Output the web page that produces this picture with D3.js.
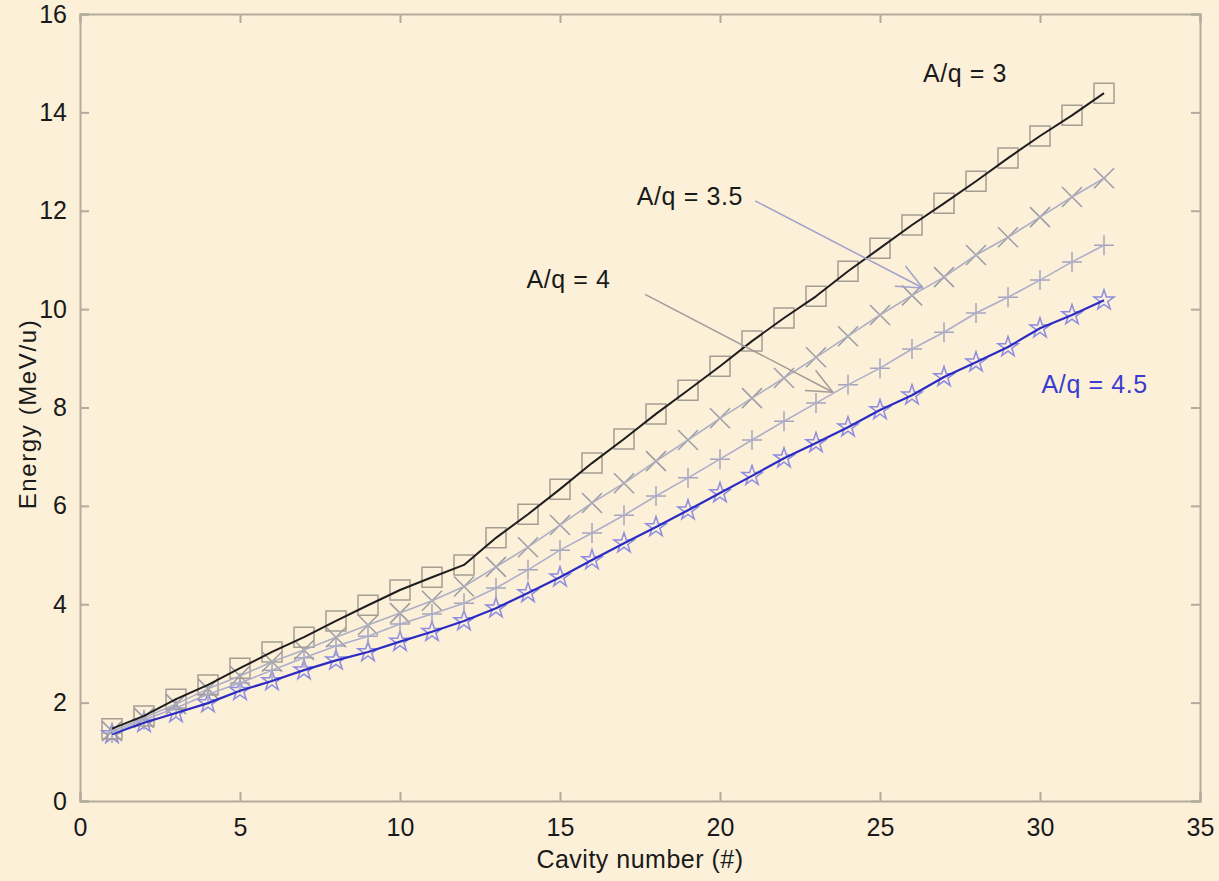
<!DOCTYPE html>
<html>
<head>
<meta charset="utf-8">
<script src="https://cdn.jsdelivr.net/npm/d3@7/dist/d3.min.js"></script>
<style>
  html, body { margin: 0; padding: 0; background: #fcf0d8; }
  svg { display: block; }
  text { font-family: "Liberation Sans", Arial, Helvetica, sans-serif; fill: #1a1a1a; }
</style>
</head>
<body>
<svg id="chart" width="1219" height="881"></svg>
<script>
const cavities = d3.range(1, 33);
const seriesNames = ["A/q = 3", "A/q = 3.5", "A/q = 4", "A/q = 4.5"];
const energyAq3 = [1.47, 1.73, 2.07, 2.36, 2.70, 3.03, 3.33, 3.66, 3.98, 4.29, 4.55, 4.80,
  5.35, 5.83, 6.34, 6.87, 7.36, 7.87, 8.35, 8.84, 9.35, 9.82, 10.26, 10.77, 11.24, 11.71,
  12.15, 12.60, 13.07, 13.52, 13.94, 14.39];
const energyAq35 = [1.42, 1.69, 1.97, 2.28, 2.54, 2.83, 3.07, 3.33, 3.58, 3.82, 4.07, 4.36,
  4.76, 5.16, 5.61, 6.06, 6.46, 6.91, 7.34, 7.78, 8.19, 8.60, 9.02, 9.45, 9.88, 10.28,
  10.65, 11.10, 11.46, 11.87, 12.28, 12.66];
const energyAq4 = [1.38, 1.65, 1.89, 2.17, 2.40, 2.66, 2.91, 3.15, 3.35, 3.60, 3.80, 4.02,
  4.33, 4.70, 5.10, 5.45, 5.81, 6.20, 6.57, 6.95, 7.34, 7.72, 8.09, 8.46, 8.80, 9.19,
  9.53, 9.92, 10.24, 10.59, 10.96, 11.30];
const energyAq45 = [1.36, 1.59, 1.79, 1.99, 2.24, 2.44, 2.66, 2.86, 3.03, 3.24, 3.44, 3.66,
  3.92, 4.23, 4.55, 4.90, 5.24, 5.57, 5.91, 6.26, 6.61, 6.97, 7.28, 7.60, 7.95, 8.25,
  8.62, 8.92, 9.23, 9.61, 9.88, 10.18];
const xTicks = [0, 5, 10, 15, 20, 25, 30, 35];
const yTicks = [0, 2, 4, 6, 8, 10, 12, 14, 16];
// annotation anchors in data units: [label x, label y, arrow start x, y, arrow end x, y]
const annotAq3 = [26.34, 14.62];
const annotAq35 = [17.4, 12.12, 21.1, 12.2, 26.34, 10.43];
const annotAq4 = [13.95, 10.42, 17.66, 10.3, 23.53, 8.31];
const annotAq45 = [30.05, 8.3];

const svg = d3.select("#chart");
const x = d3.scaleLinear().domain([0, 35]).range([80, 1200]);
const y = d3.scaleLinear().domain([0, 16]).range([801, 14]);

svg.append("rect").attr("width", 1219).attr("height", 881).attr("fill", "#fcf0d8");

const frameColor = "#b3ab9e";
const tickLen = 9;
const gx = svg.append("g").attr("transform", `translate(0,${y(0)})`)
  .call(d3.axisBottom(x).tickValues(xTicks).tickSize(-tickLen).tickPadding(17).tickFormat(d3.format("d")));
const gxt = svg.append("g").attr("transform", `translate(0,${y(16)})`)
  .call(d3.axisTop(x).tickValues(xTicks).tickSize(-tickLen).tickFormat(""));
const gy = svg.append("g").attr("transform", `translate(${x(0)},0)`)
  .call(d3.axisLeft(y).tickValues(yTicks).tickSize(-tickLen).tickPadding(14).tickFormat(d3.format("d")));
const gyr = svg.append("g").attr("transform", `translate(${x(35)},0)`)
  .call(d3.axisRight(y).tickValues(yTicks).tickSize(-tickLen).tickFormat(""));
[gx, gxt, gy, gyr].forEach(g => {
  g.select(".domain").attr("stroke", frameColor).attr("stroke-width", 2);
  g.selectAll(".tick line").attr("stroke", frameColor).attr("stroke-width", 2);
  g.selectAll(".tick text").attr("font-size", 25).attr("fill", "#1a1a1a")
    .attr("font-family", "Liberation Sans, Arial, sans-serif");
});
gx.selectAll(".tick text").attr("dy", "0.71em");
gy.selectAll(".tick text").attr("dx", "1");

svg.append("text").attr("x", 640).attr("y", 868).attr("text-anchor", "middle")
  .attr("font-size", 25).attr("letter-spacing", 0.5).text("Cavity number (#)");
svg.append("text").attr("transform", `translate(36,${414}) rotate(-90)`).attr("text-anchor", "middle")
  .attr("font-size", 24).attr("letter-spacing", 1.6).text("Energy (MeV/u)");

const series = [
  { name: seriesNames[0], values: energyAq3, line: "#1e1e1e", lw: 2, marker: "square", mc: "#a39d94" },
  { name: seriesNames[1], values: energyAq35, line: "#aeaec4", lw: 1.6, marker: "x", mc: "#9c9ca4" },
  { name: seriesNames[2], values: energyAq4, line: "#aeaecb", lw: 1.6, marker: "plus", mc: "#a4a4c0" },
  { name: seriesNames[3], values: energyAq45, line: "#2b2bc4", lw: 2.2, marker: "star", mc: "#8c8ce0" }
];

const lineGen = d3.line().x((d, i) => x(cavities[i])).y(d => y(d));

function markerPath(type) {
  const p = d3.path();
  if (type === "square") { p.rect(-10, -10, 20, 20); return p.toString(); }
  if (type === "x") { p.moveTo(-10, -10); p.lineTo(10, 10); p.moveTo(-10, 10); p.lineTo(10, -10); return p.toString(); }
  if (type === "plus") { p.moveTo(-10, 0); p.lineTo(10, 0); p.moveTo(0, -10); p.lineTo(0, 10); return p.toString(); }
  return d3.symbol(d3.symbolStar, 125)();
}

series.slice().reverse().forEach(s => {
  svg.append("g").selectAll("path").data(s.values).join("path")
    .attr("transform", (d, i) => `translate(${x(cavities[i])},${y(d)})`)
    .attr("d", markerPath(s.marker))
    .attr("fill", "none").attr("stroke", s.mc).attr("stroke-width", 1.5);
});
series.slice().reverse().forEach(s => {
  svg.append("path").datum(s.values).attr("d", lineGen)
    .attr("fill", "none").attr("stroke", s.line).attr("stroke-width", s.lw)
    .attr("stroke-linejoin", "round");
});

function arrow(x1, y1, x2, y2, color) {
  const X1 = x(x1), Y1 = y(y1), X2 = x(x2), Y2 = y(y2);
  svg.append("line").attr("x1", X1).attr("y1", Y1).attr("x2", X2).attr("y2", Y2)
    .attr("stroke", color).attr("stroke-width", 1.5);
  const ang = Math.atan2(Y2 - Y1, X2 - X1);
  const L = 28, spread = 0.42;
  [ang + Math.PI - spread, ang + Math.PI + spread].forEach(a => {
    svg.append("line").attr("x1", X2).attr("y1", Y2)
      .attr("x2", X2 + L * Math.cos(a)).attr("y2", Y2 + L * Math.sin(a))
      .attr("stroke", color).attr("stroke-width", 1.5);
  });
}
svg.append("text").attr("x", x(annotAq3[0])).attr("y", y(annotAq3[1])).attr("font-size", 25)
  .attr("letter-spacing", 0.6).attr("fill", "#1a1a1a").text(seriesNames[0]);
svg.append("text").attr("x", x(annotAq35[0])).attr("y", y(annotAq35[1])).attr("font-size", 25)
  .attr("letter-spacing", 0.6).attr("fill", "#1a1a1a").text(seriesNames[1]);
arrow(annotAq35[2], annotAq35[3], annotAq35[4], annotAq35[5], "#a0a0cc");
svg.append("text").attr("x", x(annotAq4[0])).attr("y", y(annotAq4[1])).attr("font-size", 25)
  .attr("letter-spacing", 0.6).attr("fill", "#1a1a1a").text(seriesNames[2]);
arrow(annotAq4[2], annotAq4[3], annotAq4[4], annotAq4[5], "#a19c98");
svg.append("text").attr("x", x(annotAq45[0])).attr("y", y(annotAq45[1])).attr("font-size", 25)
  .attr("letter-spacing", 0.6).style("fill", "#3b3bd0").text(seriesNames[3]);
</script>
</body>
</html>
